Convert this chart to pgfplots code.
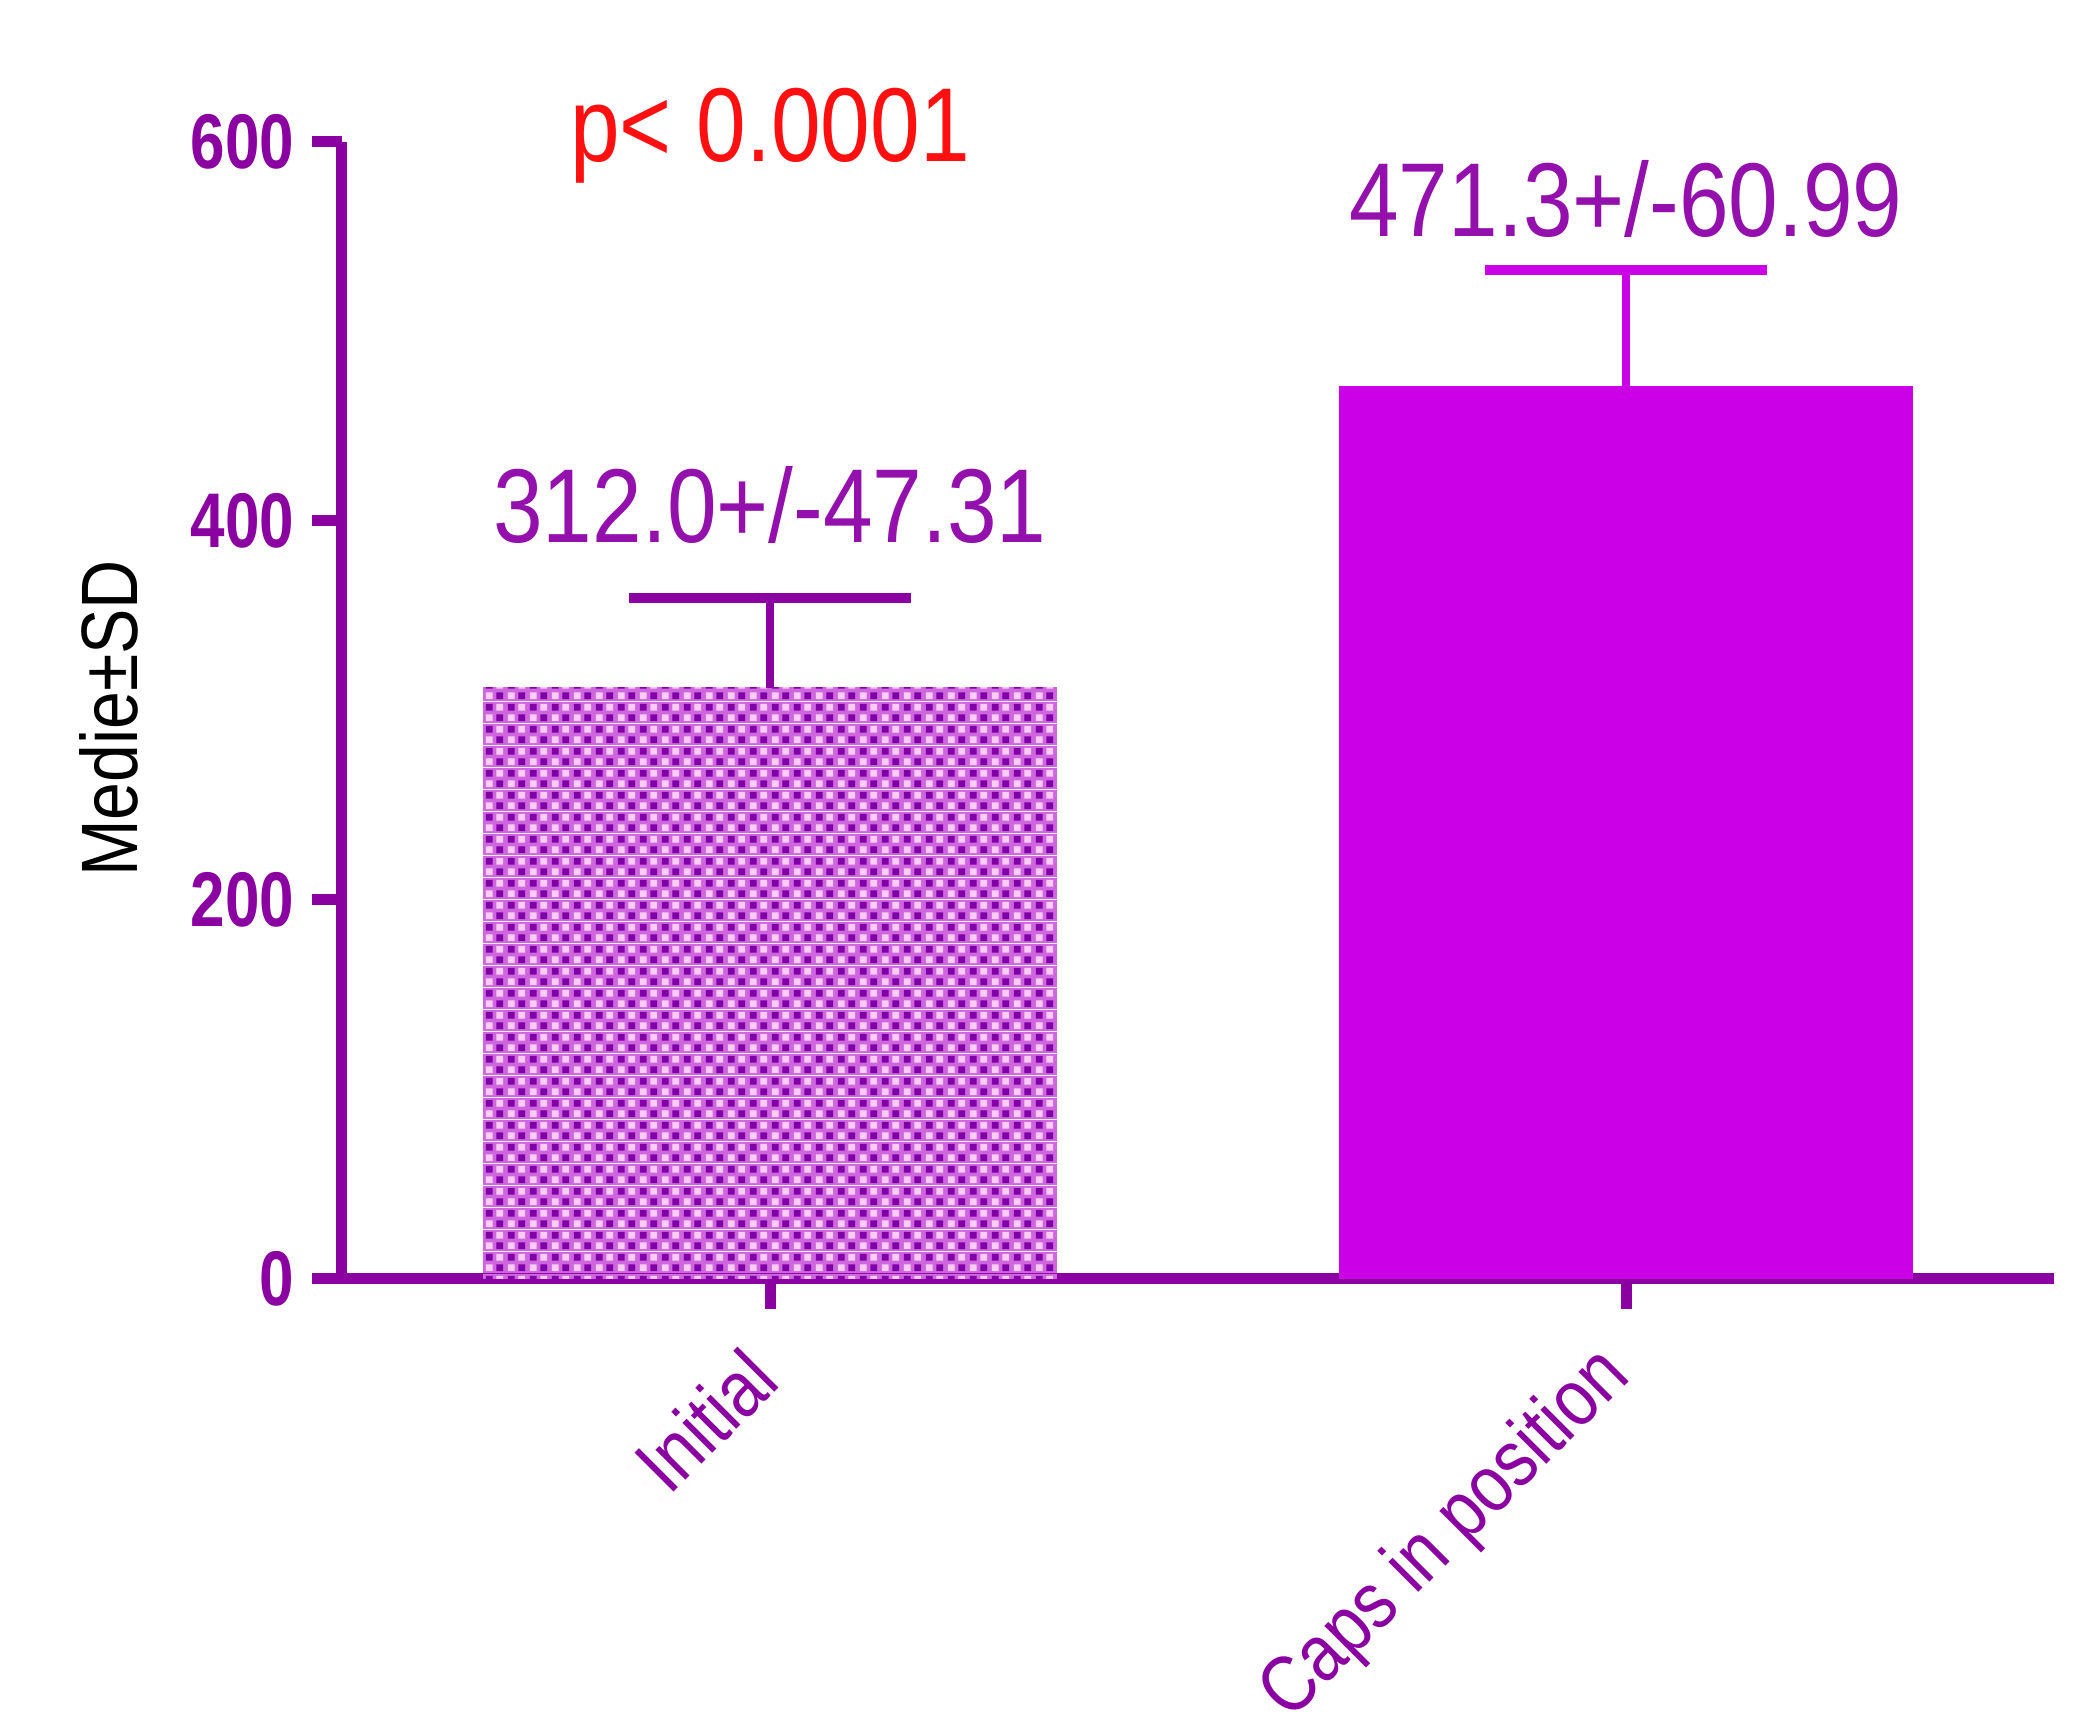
\documentclass[border=0pt]{standalone}
\usepackage{pgfplots}
\pgfplotsset{compat=1.18}
\usepackage{fontspec}
\setmainfont{Liberation Sans}[FakeStretch=0.85]
\newfontfamily\tickfont{Liberation Sans}[FakeStretch=0.8]
\usetikzlibrary{patterns}
\definecolor{axp}{HTML}{8A00A0}
\definecolor{barb}{HTML}{CC00E6}
\definecolor{txtp}{HTML}{9410AC}
\definecolor{ppink}{HTML}{FFCCF6}
\definecolor{pdark}{HTML}{8000A8}
\definecolor{pmid}{HTML}{CE66DE}
\definecolor{pred}{HTML}{FF1010}
\pgfdeclarepatterninherentlycolored{checker}{\pgfpointorigin}{\pgfqpoint{4.4pt}{4.4pt}}{\pgfqpoint{4.4pt}{4.4pt}}{%
  \pgfsetfillcolor{pmid}%
  \pgfpathrectangle{\pgfpointorigin}{\pgfqpoint{4.4pt}{4.4pt}}\pgfusepath{fill}%
  \pgfsetfillcolor{ppink}%
  \pgfpathrectangle{\pgfqpoint{0.4pt}{0.4pt}}{\pgfqpoint{1.4pt}{1.4pt}}%
  \pgfpathrectangle{\pgfqpoint{2.6pt}{2.6pt}}{\pgfqpoint{1.4pt}{1.4pt}}\pgfusepath{fill}%
  \pgfsetfillcolor{pdark}%
  \pgfpathrectangle{\pgfqpoint{2.6pt}{0.4pt}}{\pgfqpoint{1.4pt}{1.4pt}}%
  \pgfpathrectangle{\pgfqpoint{0.4pt}{2.6pt}}{\pgfqpoint{1.4pt}{1.4pt}}\pgfusepath{fill}%
}
\begin{document}
\begin{tikzpicture}
\useasboundingbox (-68.4pt,-91.2pt) rectangle (348.6pt,255.8pt);
\begin{axis}[
  at={(0pt,0pt)}, anchor=south west,
  scale only axis, width=342.4pt, height=227.4pt,
  xmin=-0.5, xmax=1.5, ymin=0, ymax=600,
  clip=false,
  axis x line*=bottom, axis y line*=left,
  axis line style={line width=2.2pt, color=axp},
  every tick/.style={line width=2.2pt, color=axp},
  tick align=outside, major tick length=6pt,
  ytick={0,200,400,600},
  xtick={0,1}, xticklabels={Initial, Caps in position},
  /pgf/number format/assume math mode=true,
  yticklabel style={font=\tickfont\bfseries\fontsize{15.5}{16}\selectfont, color=axp},
  xticklabel style={font=\fontsize{16}{18}\selectfont, color=axp, yshift=-8.6pt, xshift=0.8pt, rotate=45, anchor=east},
  ylabel={Medie\textpm SD},
  ylabel style={font=\fontsize{16}{18}\selectfont, color=black, at={(axis description cs:-0.136,0.493)}, anchor=center},
]
\addplot[ybar, bar width=0.67, bar shift=0pt, draw=none, pattern=checker,
  error bars/.cd, y dir=plus, y explicit,
  error bar style={line width=1.6pt, color=axp},
  error mark options={rotate=90, mark size=28.2pt, line width=2pt, color=axp}]
  coordinates {(0,312.0) +- (0,47.31)};
\addplot[ybar, bar width=0.67, bar shift=0pt, draw=none, fill=barb,
  error bars/.cd, y dir=plus, y explicit,
  error bar style={line width=1.6pt, color=barb},
  error mark options={rotate=90, mark size=28.2pt, line width=2pt, color=barb}]
  coordinates {(1,471.3) +- (0,60.99)};
\node[anchor=base, font=\fontsize{21}{24}\selectfont, text=txtp, inner sep=0pt] at (axis cs:0,388.6) {312.0+/-47.31};
\node[anchor=base, font=\fontsize{21}{24}\selectfont, text=txtp, inner sep=0pt] at (axis cs:1,550) {471.3+/-60.99};
\node[anchor=base, font=\fontsize{21}{24}\selectfont, text=pred, inner sep=0pt] at (axis cs:0,589.5) {p< 0.0001};
\end{axis}
\end{tikzpicture}
\end{document}
